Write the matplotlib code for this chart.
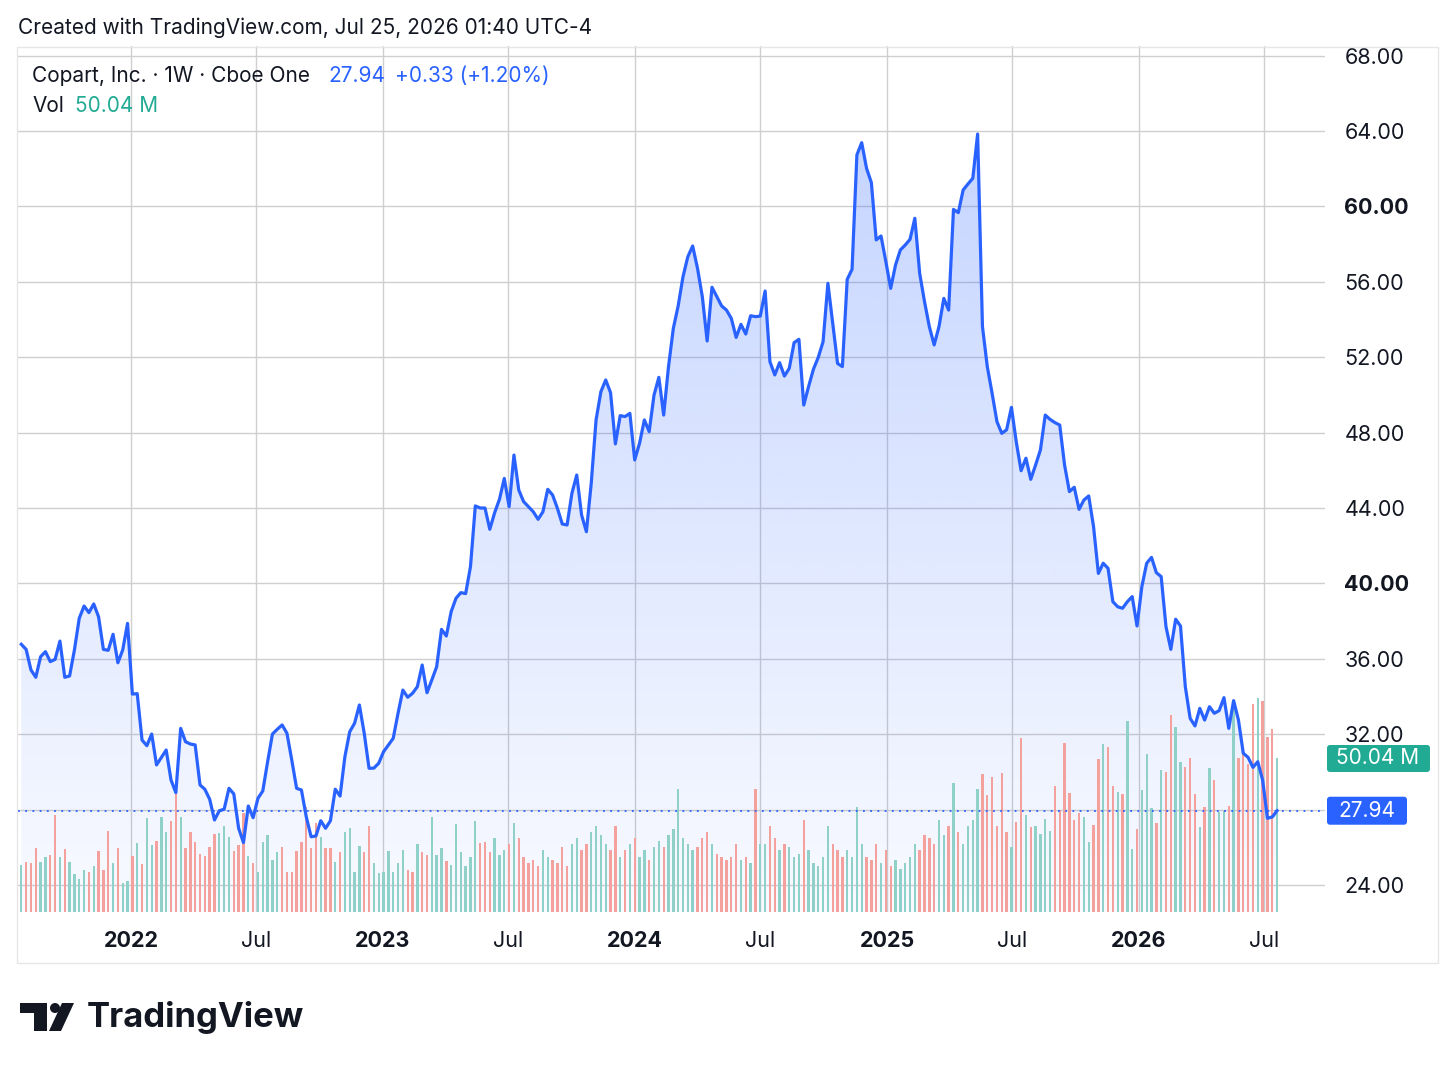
import numpy as np
import pandas as pd
import matplotlib.pyplot as plt
import matplotlib.dates as mdates
from matplotlib.patches import FancyBboxPatch, Polygon, Circle, Rectangle

plt.rcParams['font.family'] = ['Inter', 'DejaVu Sans']

# weekly closes (USD), first week starting 2021-07-26
first_week = '2021-07-26'
closes = [
    36.77, 36.50, 35.41, 35.02, 36.11, 36.38, 35.85, 35.97, 36.94, 35.02,
    35.09, 36.47, 38.15, 38.80, 38.45, 38.91, 38.23, 36.50, 36.45, 37.30,
    35.79, 36.47, 37.88, 34.13, 34.15, 31.69, 31.39, 32.01, 30.37, 30.77,
    31.16, 29.57, 28.90, 32.31, 31.60, 31.48, 31.43, 29.31, 29.08, 28.55,
    27.45, 27.94, 28.02, 29.13, 28.83, 27.01, 26.25, 28.19, 27.57, 28.60,
    28.99, 30.54, 32.01, 32.26, 32.49, 32.05, 30.63, 29.13, 29.04, 27.62,
    26.56, 26.60, 27.41, 27.01, 27.41, 29.08, 28.72, 30.81, 32.13, 32.58,
    33.55, 32.05, 30.19, 30.20, 30.46, 31.07, 31.43, 31.78, 33.11, 34.34,
    33.96, 34.17, 34.52, 35.67, 34.20, 34.88, 35.58, 37.56, 37.21, 38.50,
    39.21, 39.51, 39.46, 40.89, 44.11, 44.00, 44.00, 42.87, 43.75, 44.46,
    45.57, 44.07, 46.81, 44.95, 44.34, 44.07, 43.80, 43.40, 43.80, 44.99,
    44.69, 43.98, 43.15, 43.10, 44.78, 45.75, 43.63, 42.74, 45.31, 48.67,
    50.17, 50.79, 50.12, 47.40, 48.90, 48.85, 49.02, 46.55, 47.43, 48.67,
    48.05, 49.99, 50.93, 48.93, 51.50, 53.53, 54.72, 56.27, 57.33, 57.90,
    56.72, 55.21, 52.86, 55.71, 55.21, 54.72, 54.50, 54.06, 53.05, 53.74,
    53.23, 54.20, 54.15, 54.18, 55.51, 51.76, 51.06, 51.71, 51.00, 51.41,
    52.77, 52.95, 49.46, 50.44, 51.36, 51.99, 52.82, 55.92, 53.80, 51.67,
    51.50, 56.13, 56.66, 62.73, 63.38, 62.02, 61.26, 58.22, 58.43, 57.07,
    55.65, 56.89, 57.69, 57.95, 58.25, 59.37, 56.45, 54.95, 53.62, 52.65,
    53.62, 55.12, 54.50, 59.84, 59.67, 60.87, 61.19, 61.49, 63.84, 53.62,
    51.50, 50.08, 48.58, 47.96, 48.15, 49.34, 47.50, 45.98, 46.64, 45.52,
    46.28, 47.08, 48.93, 48.70, 48.53, 48.40, 46.28, 44.87, 45.10, 43.93,
    44.42, 44.64, 43.01, 40.53, 41.07, 40.80, 39.03, 38.76, 38.68, 39.03,
    39.30, 37.74, 39.83, 41.07, 41.38, 40.57, 40.36, 37.70, 36.50, 38.10,
    37.74, 34.52, 32.84, 32.44, 33.37, 32.75, 33.46, 33.11, 33.25, 33.94,
    32.31, 33.78, 32.75, 30.99, 30.77, 30.24, 30.54, 29.57, 27.54, 27.61,
    27.94,
]

# weekly volume, millions of shares
volumes = [
    15.3, 16.2, 15.8, 20.9, 16.3, 18.0, 18.5, 31.5, 17.8, 20.4,
    16.3, 12.3, 10.6, 13.7, 13.1, 15.0, 19.8, 13.7, 26.4, 16.0,
    20.7, 9.3, 10.2, 18.2, 22.3, 15.6, 30.4, 21.8, 23.2, 30.8,
    25.9, 29.7, 38.6, 31.0, 20.7, 25.9, 22.7, 18.9, 18.3, 21.2,
    25.3, 25.6, 28.0, 24.5, 19.8, 21.8, 32.1, 18.3, 16.0, 13.1,
    22.7, 25.0, 16.9, 19.6, 21.2, 12.9, 12.9, 19.8, 22.7, 34.2,
    20.7, 28.8, 24.5, 20.7, 20.7, 16.3, 19.6, 25.9, 27.2, 13.1,
    21.5, 19.6, 28.0, 15.8, 12.6, 12.9, 19.8, 13.1, 16.0, 20.2,
    13.7, 13.1, 22.1, 19.6, 18.5, 30.8, 18.5, 20.9, 16.6, 15.3,
    28.6, 19.4, 15.0, 17.8, 29.7, 22.3, 22.7, 19.6, 24.1, 18.5,
    20.0, 22.0, 29.0, 24.0, 18.0, 16.0, 17.0, 15.0, 20.0, 18.0,
    17.0, 16.0, 21.0, 15.0, 22.0, 24.0, 20.0, 22.0, 26.0, 28.0,
    25.0, 22.0, 20.0, 28.0, 18.0, 20.0, 22.0, 24.0, 18.0, 20.0,
    17.0, 21.0, 23.0, 21.0, 25.0, 27.0, 40.0, 24.0, 22.0, 20.0,
    21.0, 24.0, 26.0, 22.0, 19.0, 18.0, 17.0, 18.0, 22.0, 17.0,
    18.0, 16.0, 40.0, 22.0, 22.0, 28.0, 24.0, 20.0, 22.0, 21.0,
    18.0, 19.0, 30.0, 20.0, 16.0, 15.0, 18.0, 28.0, 22.0, 20.0,
    18.0, 20.0, 18.0, 34.0, 22.0, 18.0, 17.0, 22.0, 16.0, 20.0,
    15.0, 17.0, 14.0, 16.0, 18.0, 22.0, 20.0, 25.0, 24.0, 22.0,
    30.0, 25.0, 28.0, 42.0, 26.0, 22.0, 28.0, 30.0, 40.0, 45.0,
    38.0, 44.0, 28.0, 45.2, 26.0, 21.1, 29.2, 56.5, 31.5, 27.6,
    28.0, 25.5, 30.3, 26.3, 40.8, 33.0, 55.0, 38.6, 29.9, 32.2,
    31.0, 22.6, 28.4, 49.8, 54.7, 53.5, 40.8, 39.1, 38.2, 62.0,
    20.5, 26.9, 39.6, 51.5, 33.8, 29.0, 46.3, 45.5, 63.9, 60.2,
    48.9, 47.1, 50.0, 38.2, 27.6, 34.2, 46.9, 42.8, 32.4, 32.7,
    34.5, 68.0, 50.0, 51.2, 48.1, 67.7, 69.5, 68.7, 57.0, 59.6,
    50.0,
]

# bar direction: u = up week (teal), d = down week (red)
bar_dir = ("uddduuddud" "uuuududddu" "duududuudu" "uddudddddd" "duuudddudu"
           "uuuudddddd" "ddudduduuu" "udduuuuuuu" "ddudduuudu" "uuuuuddduu"
           "ududdddduu" "dddduudduu" "uuddududuu" "duuduuuuuu" "dddudddddu"
           "duduuddudu" "uuduuuuudd" "duuuudddud" "duuuuudddd" "uududuuuud"
           "ddd" "dduddud" "uuuudddddd" "uudduddudu" "uduuududdu"
           "udddududuu" "dudddduddd" "u")

last_close = 27.94
last_vol = 50.04
y_ticks = list(range(24, 69, 4))
bold_ticks = [40, 60]
hidden_ticks = [28]  # covered by the last-price label
x_tick_dates = ['2022-01-01', '2022-07-01', '2023-01-01', '2023-07-01', '2024-01-01',
                '2024-07-01', '2025-01-01', '2025-07-01', '2026-01-01', '2026-07-01']
x_tick_labels = ['2022', 'Jul', '2023', 'Jul', '2024', 'Jul', '2025', 'Jul', '2026', 'Jul']

W, H = 1456, 1070
BLUE = '#2962FF'
GRID = '#cfcfcf'
INK = '#131722'

dates = pd.date_range(first_week, periods=len(closes), freq='7D')
x = mdates.date2num(dates.to_pydatetime())

fig = plt.figure(figsize=(W / 100, H / 100), dpi=100)
fig.patch.set_facecolor('white')

# plot area in pixels
L, R, T, B = 18, 1325, 46, 912
rect = [L / W, 1 - B / H, (R - L) / W, (B - T) / H]

# x scale: 2022-01-01 sits at px 131, 0.69 px per day
d22 = mdates.date2num(pd.Timestamp('2022-01-01'))
ppd = 0.690
xmin = d22 - (131 - L) / ppd
xmax = d22 + (R - 131) / ppd
# y scale: 24 at px 885, 18.85 px per dollar
ppu = 18.85
ymin = 24 - (B - 885) / ppu
ymax = 24 + (885 - T) / ppu

ax = fig.add_axes(rect, zorder=1)
ax.set_facecolor('white')
for s in ax.spines.values():
    s.set_visible(False)
ax.set_axisbelow(True)

# gradient area under the line
fill = ax.fill_between(x, closes, ymin, facecolor='none', edgecolor='none')
grad = np.zeros((256, 1, 4))
grad[..., 0], grad[..., 1], grad[..., 2] = 41 / 255, 98 / 255, 1.0
grad[:, 0, 3] = np.linspace(0.03, 0.27, 256)
im = ax.imshow(grad, extent=[x[0], x[-1], ymin, max(closes)], origin='lower',
               aspect='auto', zorder=1, interpolation='bilinear')
im.set_clip_path(fill.get_paths()[0], transform=ax.transData)

ax.set_xlim(xmin, xmax)
ax.set_ylim(ymin, ymax)
ax.yaxis.tick_right()
ax.set_yticks(y_ticks)
ax.set_yticklabels(['' if v in hidden_ticks else f'{v:.2f}' for v in y_ticks],
                   fontsize=15.5, color=INK)
for lab, v in zip(ax.get_yticklabels(), y_ticks):
    if v in bold_ticks:
        lab.set_fontweight('bold')
ax.set_xticks(mdates.date2num(pd.to_datetime(x_tick_dates).to_pydatetime()))
ax.set_xticklabels(x_tick_labels, fontsize=15.5, color=INK)
for lab in ax.get_xticklabels():
    if lab.get_text() != 'Jul':
        lab.set_fontweight('bold')
ax.tick_params(axis='y', length=0, pad=14)
ax.tick_params(axis='x', length=0, pad=14)
ax.grid(True, color=GRID, linewidth=1)

# volume pane
axv = fig.add_axes(rect, zorder=2, sharex=ax)
axv.patch.set_alpha(0)
axv.axis('off')
col_up = '#8fd0c9'
col_dn = '#f4a19e'
axv.bar(x, volumes, width=3.4, color=[col_up if d == 'u' else col_dn for d in bar_dir],
        linewidth=0)
axv.set_ylim(0, last_vol * (B - T) / (B - 758))
axv.set_xlim(xmin, xmax)

# price line
axl = fig.add_axes(rect, zorder=3, sharex=ax, sharey=ax)
axl.patch.set_alpha(0)
axl.axis('off')
axl.plot(x, closes, color=BLUE, linewidth=2.3, solid_joinstyle='round')
axl.axhline(last_close, color=BLUE, linewidth=1.3, linestyle=(0, (1, 3)))
axl.set_xlim(xmin, xmax)
axl.set_ylim(ymin, ymax)

# overlay in pixel coordinates for texts and decorations
ov = fig.add_axes([0, 0, 1, 1], zorder=4)
ov.set_xlim(0, W)
ov.set_ylim(H, 0)
ov.axis('off')
ov.patch.set_alpha(0)

ov.add_patch(Rectangle((17, 47), 1421, 916, fill=False, edgecolor='#e6e6e6', linewidth=1))

ov.text(18, 28, 'Created with TradingView.com, Jul 25, 2026 01:40 UTC-4', fontsize=15,
        color=INK, va='center', ha='left')

ov.text(32, 76, 'Copart, Inc. · 1W · Cboe One', fontsize=15, color=INK, va='center')
ov.text(328, 76, f'{last_close:.2f}', fontsize=15, color=BLUE, va='center')
ov.text(395, 76, '+0.33 (+1.20%)', fontsize=15, color=BLUE, va='center')
ov.text(32, 106, 'Vol', fontsize=15, color=INK, va='center')
ov.text(75, 106, f'{last_vol:.2f} M', fontsize=15, color='#22ab94', va='center')

# last value boxes on the price scale
ov.add_patch(FancyBboxPatch((1327, 745), 103, 27, boxstyle='round,pad=0,rounding_size=3',
                            facecolor='#22ab94', edgecolor='none'))
ov.text(1378, 758.5, f'{last_vol:.2f} M', fontsize=15, color='white', ha='center', va='center')
yb = 885 - (last_close - 24) * ppu
ov.add_patch(FancyBboxPatch((1327, yb - 14), 80, 28, boxstyle='round,pad=0,rounding_size=3',
                            facecolor=BLUE, edgecolor='none'))
ov.text(1367, yb + 0.5, f'{last_close:.2f}', fontsize=15, color='white', ha='center', va='center')

# TradingView logo
ov.add_patch(Polygon([(20, 1003), (47, 1003), (47, 1031), (34, 1031), (34, 1013), (20, 1013)],
                     closed=True, facecolor=INK, edgecolor='none'))
ov.add_patch(Circle((55, 1008), 5, facecolor=INK, edgecolor='none'))
ov.add_patch(Polygon([(62, 1003), (74, 1003), (61, 1031), (49, 1031)], closed=True,
                     facecolor=INK, edgecolor='none'))
ov.text(87, 1017, 'TradingView', fontsize=25, fontweight='bold', color=INK,
        va='center', ha='left')

fig.savefig('out.png', dpi=100, facecolor='white')
